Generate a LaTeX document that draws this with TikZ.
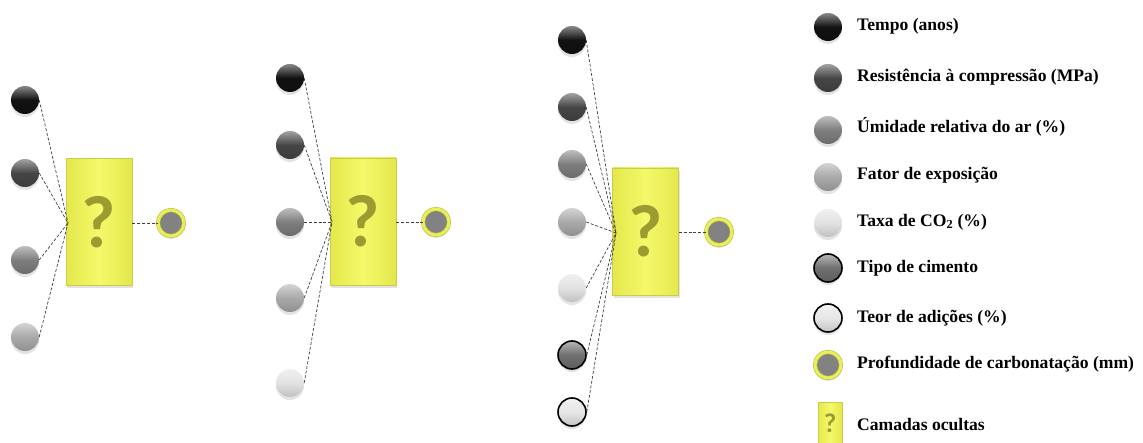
\documentclass[tikz,border=0pt]{standalone}
\usepackage{fontspec}
\setmainfont{Liberation Serif}
\newfontfamily\qfont{Carlito}
\usetikzlibrary{shadows}
\definecolor{cblack}{HTML}{111111}
\definecolor{cdark}{HTML}{464646}
\definecolor{cgray}{HTML}{7E7E7E}
\definecolor{clight}{HTML}{A9A9A9}
\definecolor{cwhite}{HTML}{E2E2E2}
\definecolor{ctipo}{HTML}{6F6F6F}
\definecolor{cteor}{HTML}{E6E6E6}
\definecolor{cout}{HTML}{828282}
\definecolor{ring}{HTML}{E9EE5E}
\definecolor{ringedge}{HTML}{B8BC3A}
\definecolor{boxfill}{HTML}{F4F86A}
\definecolor{boxside}{HTML}{E4E84C}
\definecolor{boxedge}{HTML}{C9CD4A}
\definecolor{qcol}{HTML}{9A9C32}
\definecolor{dash}{HTML}{404040}
\tikzset{
  ballnode/.style={circle, inner sep=0pt, minimum size=28pt,
    top color=#1!50!white, bottom color=#1!85!black, middle color=#1,
    drop shadow={shadow xshift=0pt, shadow yshift=-3pt, opacity=0.22}},
  ringball/.style={ballnode=#1, draw=black, line width=1.6pt},
  outball/.style={circle, inner sep=0pt, minimum size=26pt, fill=cout,
    draw=ringedge, double=ring, double distance=3pt, line width=0.6pt,
    drop shadow={shadow xshift=0pt, shadow yshift=-3pt, opacity=0.22}},
  hidbox/.style={rectangle, inner sep=0pt, minimum width=66pt, minimum height=127pt,
    left color=boxside, right color=boxside, middle color=boxfill,
    draw=boxedge, line width=0.8pt, text=qcol,
    font=\qfont\bfseries\fontsize{74}{74}\selectfont,
    drop shadow={shadow xshift=1pt, shadow yshift=-3pt, opacity=0.22}},
  conn/.style={draw=dash, line width=0.7pt, dash pattern=on 3pt off 1.8pt},
  legtext/.style={anchor=west, inner sep=0pt, font=\bfseries\fontsize{17.6}{20}\selectfont}
}
\begin{document}
\begin{tikzpicture}[x=1pt,y=-1pt]
\useasboundingbox (0,0) rectangle (1143,443);
% ---------- network 1
\node[ballnode=cblack] (a1) at (25,100) {};
\node[ballnode=cdark]  (a2) at (25,173) {};
\node[ballnode=cgray]  (a3) at (25,260) {};
\node[ballnode=clight] (a4) at (25,337) {};
\node[hidbox] (ha) at (99,222) {?};
\coordinate (ca) at (68,223);
\node[outball] (oa) at (171,223) {};
\foreach \i in {1,...,4} \draw[conn] (a\i.east) -- (ca);
\draw[conn] (ha.east |- oa) -- (oa.west);
% ---------- network 2
\node[ballnode=cblack] (b1) at (290,78) {};
\node[ballnode=cdark]  (b2) at (290,145) {};
\node[ballnode=cgray]  (b3) at (290,222) {};
\node[ballnode=clight] (b4) at (290,298) {};
\node[ballnode=cwhite] (b5) at (290,383) {};
\node[hidbox] (hb) at (363,221.5) {?};
\coordinate (cb) at (332,222);
\node[outball] (ob) at (436,222) {};
\foreach \i in {1,...,5} \draw[conn] (b\i.east) -- (cb);
\draw[conn] (hb.east |- ob) -- (ob.west);
% ---------- network 3
\node[ballnode=cblack] (c1) at (572,40) {};
\node[ballnode=cdark]  (c2) at (572,107) {};
\node[ballnode=cgray]  (c3) at (572,164) {};
\node[ballnode=clight] (c4) at (572,222) {};
\node[ballnode=cwhite] (c5) at (572,288) {};
\node[ringball=ctipo]  (c6) at (572,355) {};
\node[ringball=cteor]  (c7) at (572,412) {};
\node[hidbox] (hc) at (645.5,231.5) {?};
\coordinate (cc) at (616,233);
\node[outball] (oc) at (719,232) {};
\foreach \i in {1,...,7} \draw[conn] (c\i.east) -- (cc);
\draw[conn] (hc.east |- oc) -- (oc.west);
% ---------- legend
\node[ballnode=cblack] (l1) at (828,27) {};
\node[ballnode=cdark]  (l2) at (828,78) {};
\node[ballnode=cgray]  (l3) at (828,130) {};
\node[ballnode=clight] (l4) at (828,177) {};
\node[ballnode=cwhite] (l5) at (828,223) {};
\node[ringball=ctipo]  (l6) at (828,268) {};
\node[ringball=cteor]  (l7) at (828,318) {};
\node[outball]         (l8) at (828,365) {};
\node[hidbox, minimum width=24pt, minimum height=42pt,
      font=\qfont\bfseries\fontsize{27}{27}\selectfont] (l9) at (830,423) {?};
\node[legtext] (t1) at (857,26) {Tempo (anos)};
\node[legtext] (t2) at (857,77) {Resistência à compressão (MPa)};
\node[legtext] (t3) at (857,127) {Úmidade relativa do ar (\%)};
\node[legtext] (t4) at (857,175) {Fator de exposição};
\node[legtext] (t5) at (857,222) {Taxa de CO\textsubscript{2} (\%)};
\node[legtext] (t6) at (857,268) {Tipo de cimento};
\node[legtext] (t7) at (857,318) {Teor de adições (\%)};
\node[legtext] (t8) at (857,364) {Profundidade de carbonatação (mm)};
\node[legtext] (t9) at (857,425) {Camadas ocultas};
\end{tikzpicture}
\end{document}
